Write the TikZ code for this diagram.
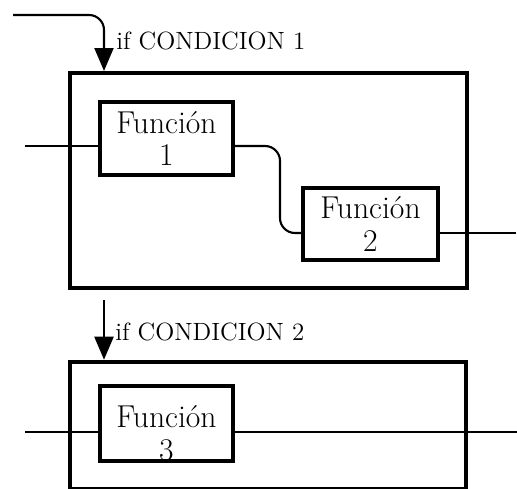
\documentclass[tikz,border=0pt]{standalone}
\usetikzlibrary{arrows.meta, calc, positioning}

\tikzset{
  frame/.style={draw, line width=2.3pt, inner sep=0pt},
  fbox/.style={draw, line width=2.4pt, align=center, inner sep=0pt,
    minimum width=2.66cm, minimum height=1.46cm,
    font=\fontsize{18}{18.5}\selectfont},
  wire/.style={line width=1.2pt},
  cond/.style={anchor=base west, inner sep=0pt, font=\fontsize{14.2}{15}\selectfont},
  drop/.style={wire, rounded corners=0.3cm, -{Triangle[width=0.38cm, length=0.46cm]}}
}

\begin{document}
\begin{tikzpicture}[x=0.02cm, y=-0.02cm]
  \useasboundingbox (0,0) rectangle (517,489);
  % the two condition blocks
  \node[frame, minimum width=7.94cm, minimum height=4.3cm] (cond1) at (268.5,180.5) {};
  \node[frame, minimum width=7.92cm, minimum height=2.55cm] (cond2) at (268,425.5) {};
  % functions inside them
  \node[fbox] (f1) at (166.5,138.5) {Funci\'on\\1};
  \node[fbox, minimum width=2.7cm, minimum height=1.44cm] (f2) at (370.5,224) {Funci\'on\\2};
  \node[fbox, minimum height=1.5cm] (f3) at (166.5,423.5) {};
  \node[align=center, inner sep=0pt, font=\fontsize{18}{18.5}\selectfont] (f3txt) at (166.5,433) {Funci\'on\\3};
  % free ends of the wires
  \coordinate (in1) at (25,146);
  \coordinate (bend) at (280,146);
  \coordinate (out2) at (516,233);
  \coordinate (in3) at (25,432);
  \coordinate (out3) at (517,432);
  \coordinate (start1) at (13,15);
  \coordinate (drop1) at (104,15);
  \coordinate (start2) at (104,300);
  % wires
  \draw[wire] (in1) -- (in1 -| f1.west);
  \draw[wire, rounded corners=0.3cm] (in1 -| f1.east) -| (bend |- out2) -- (out2 -| f2.west);
  \draw[wire] (out2 -| f2.east) -- (out2);
  \draw[wire] (in3) -- (in3 -| f3.west);
  \draw[wire] (in3 -| f3.east) -- (out3);
  % conditions
  \draw[drop] (start1) -- (drop1) -- (drop1 |- cond1.north);
  \draw[drop] (start2) -- (start2 |- cond2.north);
  \node[cond] (lab1) at (116,50) {if CONDICION 1};
  \node[cond] (lab2) at (115,340) {if CONDICION 2};
\end{tikzpicture}
\end{document}
